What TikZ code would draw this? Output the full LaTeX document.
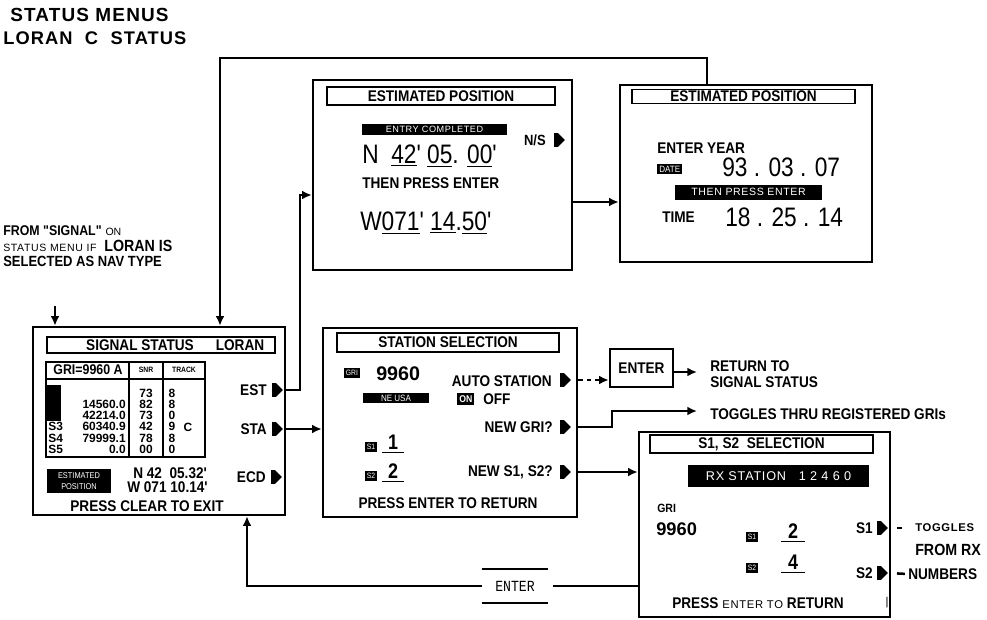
\documentclass[tikz,border=0pt]{standalone}
\usepackage{fontspec}
\setmainfont{Liberation Sans}
\newfontfamily\cnd[FakeStretch=0.88]{Liberation Sans}
\newfontfamily\lcd[FakeStretch=0.85]{Liberation Sans}
\newfontfamily\mono[FakeStretch=0.85]{Liberation Mono}
\newfontfamily\spaced[LetterSpace=6]{Liberation Sans}
\usetikzlibrary{arrows.meta,positioning,shapes.symbols}

\begin{document}
\begin{tikzpicture}[x=0.025cm, y=-0.025cm,
  screen/.style={draw, line width=1.8pt, inner sep=0},
  bar/.style={draw, line width=1.1pt, inner sep=0, minimum height=0.45cm,
    font=\cnd\bfseries\fontsize{11}{12}\selectfont},
  lbl/.style={inner sep=0, font=\cnd\bfseries\fontsize{11}{11.5}\selectfont},
  cell/.style={inner sep=0, font=\bfseries\fontsize{8.5}{9}\selectfont},
  inv/.style={fill=black, text=white, inner sep=1.5pt,
    font=\cnd\fontsize{6.5}{7}\selectfont},
  lcdtext/.style={inner sep=0, font=\lcd\fontsize{19}{21}\selectfont},
  ptr/.style={signal, signal to=east, fill=black, inner sep=0,
    minimum width=0.27cm, minimum height=0.34cm},
  conn/.style={line width=1.3pt, -{Latex[length=2.4mm,width=2.2mm]}}]

\useasboundingbox (0,0) rectangle (987,619);

% headings and entry note
\node[inner sep=0, anchor=west, font=\spaced\bfseries\fontsize{13.5}{15}\selectfont] (hdA) at (10,15) {STATUS MENUS};
\node[inner sep=0, anchor=west, font=\spaced\bfseries\fontsize{13}{15}\selectfont] (hdB) at (3,38) {LORAN\ \ C\ \ STATUS};
\node[inner sep=0, anchor=west] (noteA) at (3,231) {{\cnd\bfseries\fontsize{10}{11}\selectfont FROM "SIGNAL"} {\fontsize{7.5}{9}\selectfont ON}};
\node[inner sep=0, anchor=west] (noteB) at (3,246) {{\spaced\fontsize{7.5}{9}\selectfont STATUS MENU IF}\ \ {\cnd\bfseries\fontsize{11.5}{12}\selectfont LORAN IS}};
\node[inner sep=0, anchor=west, font=\cnd\bfseries\fontsize{10.5}{11}\selectfont] (noteC) at (3,261) {SELECTED AS NAV TYPE};

% signal status screen
\node[screen, minimum width=6.3cm, minimum height=4.7cm] (sig) at (159,421) {};
\node[bar, minimum width=5.7cm, minimum height=0.4cm] (sigbar) at (161,345) {};
\node[lbl] at (140,345) {SIGNAL STATUS};
\node[lbl] at (240,345) {LORAN};
\draw[line width=1.3pt] (46,362) rectangle (205,457) (46,379) -- (205,379)
  (129,362) -- (129,457) (163,362) -- (163,457);
\node[cell, font=\cnd\bfseries\fontsize{10}{11}\selectfont] at (88,370) {GRI=9960 A};
\node[cell, font=\cnd\bfseries\fontsize{5.5}{6}\selectfont] at (146,370) {SNR};
\node[cell, font=\cnd\bfseries\fontsize{5.5}{6}\selectfont] at (184,370) {TRACK};
\fill (47,385) rectangle (61,421);
\foreach \val/\snr/\trk [count=\i] in {{}/73/8, 14560.0/82/8, 42214.0/73/0, 60340.9/42/9, 79999.1/78/8, 0.0/00/0} {
  \node[cell, anchor=east] at (126,{382+11.2*\i}) {\val};
  \node[cell] at (146,{382+11.2*\i}) {\snr};
  \node[cell] at (172,{382+11.2*\i}) {\trk};
}
\foreach \lab [count=\i from 4] in {S3,S4,S5}
  \node[cell, anchor=west] at (48,{382+11.2*\i}) {\lab};
\node[cell] at (188,427) {C};
\node[lbl, anchor=east] at (267,390) {EST};
\node[ptr] (estp) at (274,390) {};
\node[lbl, anchor=east] at (267,429) {STA};
\node[ptr] (stap) at (274,429) {};
\node[lbl, anchor=east] at (266,477) {ECD};
\node[ptr] (ecdp) at (273,477) {};
\node[inv, minimum width=1.6cm, minimum height=0.6cm, align=center,
  font=\cnd\fontsize{6}{7.5}\selectfont] at (79,481) {ESTIMATED\\POSITION};
\node[lbl, anchor=west, font=\cnd\bfseries\fontsize{11}{12}\selectfont] at (133,473) {N 42\ \ 05.32'};
\node[lbl, anchor=west, font=\cnd\bfseries\fontsize{11}{12}\selectfont] at (127,487) {W 071 10.14'};
\node[lbl] at (147,506) {PRESS CLEAR TO EXIT};

% position entry screen
\node[screen, minimum width=6.475cm, minimum height=4.75cm] (estA) at (442.5,175) {};
\node[bar, minimum width=5.7cm] at (441,96) {ESTIMATED POSITION};
\node[inv, minimum width=3.6cm, minimum height=0.28cm,
  font=\spaced\fontsize{6.5}{7}\selectfont] at (434.5,129.5) {ENTRY COMPLETED};
\node[lbl, anchor=east, font=\cnd\bfseries\fontsize{10.5}{11}\selectfont] at (546,140) {N/S};
\node[ptr] (nsp) at (556,140) {};
\node[lcdtext, anchor=west] at (362,156) {N\ \ \underline{42}' \underline{05}. \underline{00}'};
\node[lbl, anchor=west] at (362,183) {THEN PRESS ENTER};
\node[lcdtext, anchor=west] at (360,223) {W\underline{071}' \underline{14}.\underline{50}'};

% date and time screen
\node[screen, minimum width=6.3cm, minimum height=4.425cm] (estB) at (746,173.5) {};
\node[bar, minimum width=5.575cm, minimum height=0.35cm] at (743.5,96.5) {ESTIMATED POSITION};
\node[lbl, anchor=west] at (657,148) {ENTER YEAR};
\node[inv, anchor=west, minimum height=0.25cm] at (657,169) {DATE};
\node[lcdtext, anchor=west] at (722,167) {93 . 03 . 07};
\node[inv, minimum width=3.675cm, minimum height=0.375cm,
  font=\spaced\fontsize{7.5}{8}\selectfont] at (748.5,192) {THEN PRESS ENTER};
\node[lbl, anchor=west] at (662,217) {TIME};
\node[lcdtext, anchor=west] at (725,217) {18 . 25 . 14};

% station selection screen
\node[screen, minimum width=6.35cm, minimum height=4.725cm] (stasel) at (450,422.5) {};
\node[bar, minimum width=5.55cm, minimum height=0.475cm] at (448,342.5) {STATION SELECTION};
\node[inv, font=\cnd\fontsize{5.5}{6}\selectfont] at (352,373) {GRI};
\node[inner sep=0, anchor=west, font=\bfseries\fontsize{14}{15}\selectfont] at (376,374) {9960};
\node[inv, minimum width=1.65cm, minimum height=0.26cm] at (396,398) {NE USA};
\node[lbl, anchor=east] at (552,381) {AUTO STATION};
\node[ptr] (autop) at (562,380) {};
\node[inv, anchor=west, font=\cnd\bfseries\fontsize{7}{8}\selectfont] at (457,399) {ON};
\node[lbl, anchor=west] at (483,399) {OFF};
\node[lbl, anchor=east] at (553,427) {NEW GRI?};
\node[ptr] (newgrip) at (562,427) {};
\node[inv, font=\cnd\fontsize{5.5}{6}\selectfont] at (371,447) {S1};
\node[inner sep=0, font=\lcd\bfseries\fontsize{15}{16}\selectfont] at (393,444) {\underline{\makebox[0.55cm]{1}}};
\node[inv, font=\cnd\fontsize{5.5}{6}\selectfont] at (371,476) {S2};
\node[inner sep=0, font=\lcd\bfseries\fontsize{15}{16}\selectfont] at (393,473) {\underline{\makebox[0.55cm]{2}}};
\node[lbl, anchor=east] at (553,472) {NEW S1, S2?};
\node[ptr] (news12p) at (562,472) {};
\node[lbl] at (448,503) {PRESS ENTER TO RETURN};

% enter key and side notes
\node[draw, line width=1.8pt, minimum width=1.575cm, minimum height=0.95cm,
  font=\cnd\bfseries\fontsize{11}{12}\selectfont] (enterbtn) at (641.5,368) {ENTER};
\node[lbl, anchor=west, align=left] (retnote) at (710,374) {RETURN TO\\SIGNAL STATUS};
\node[lbl, anchor=west] (grinote) at (710,414) {TOGGLES THRU REGISTERED GRIs};

% S1, S2 selection screen
\node[screen, minimum width=6.275cm, minimum height=4.625cm] (s1s2) at (764.5,524.5) {};
\node[bar, minimum width=5.575cm] at (761.5,444) {S1, S2\ \ SELECTION};
\node[inv, minimum width=4.525cm, minimum height=0.55cm,
  font=\spaced\fontsize{9}{10}\selectfont] at (778.5,476) {RX STATION\ \ \ 1 2 4 6 0};
\node[lbl, anchor=west, font=\cnd\bfseries\fontsize{8.5}{9}\selectfont] at (657,508) {GRI};
\node[inner sep=0, anchor=west, font=\bfseries\fontsize{13}{14}\selectfont] at (656,529) {9960};
\node[inv, font=\cnd\fontsize{5.5}{6}\selectfont] at (752,537) {S1};
\node[inner sep=0, font=\lcd\bfseries\fontsize{15}{16}\selectfont] at (793,533) {\underline{\makebox[0.6cm]{2}}};
\node[inv, font=\cnd\fontsize{5.5}{6}\selectfont] at (752,568) {S2};
\node[inner sep=0, font=\lcd\bfseries\fontsize{15}{16}\selectfont] at (793,564) {\underline{\makebox[0.6cm]{4}}};
\node[lbl, anchor=east] at (873,528) {S1};
\node[ptr] (s1p) at (879,528) {};
\node[lbl, anchor=east] at (873,573) {S2};
\node[ptr] (s2p) at (879,573) {};
\node[inner sep=0, anchor=west, font=\spaced\bfseries\fontsize{8}{9}\selectfont] (togg) at (915,528) {TOGGLES};
\node[inner sep=0, anchor=west, font=\cnd\bfseries\fontsize{11.5}{12}\selectfont] (fromrx) at (915,550) {FROM RX};
\node[inner sep=0, anchor=west, font=\cnd\bfseries\fontsize{11}{12}\selectfont] (numb) at (908,574) {NUMBERS};
\node[inner sep=0, anchor=west] at (672,603) {{\cnd\bfseries\fontsize{11}{12}\selectfont PRESS} {\spaced\fontsize{8}{9}\selectfont ENTER TO} {\cnd\bfseries\fontsize{11}{12}\selectfont RETURN}};
\node[inner sep=0, font=\fontsize{8}{9}\selectfont] at (887,603) {|};

% return key below
\node[inner sep=0, minimum width=1.65cm, minimum height=0.83cm,
  font=\mono\fontsize{11}{12}\selectfont] (enterkey) at (515,586) {ENTER};
\draw[line width=1.3pt] (enterkey.north west) -- (enterkey.north east)
  (enterkey.south west) -- (enterkey.south east);

% connectors
\coordinate (fromsig) at (55,306);
\draw[conn] (fromsig) -- (sig.north -| fromsig);
\draw[conn] (sig.east |- estp) -| (300,195) -- (estA.west |- 0,195);
\draw[conn] (estA.east |- 0,202) -- (estB.west |- 0,202);
\draw[conn] (estB.north -| 707,0) -- (707,58) -| (sig.north -| 220,0);
\draw[conn] (sig.east |- stap) -- (stasel.west |- stap);
\draw[conn, dashed] (stasel.east |- autop) -- (enterbtn.west |- autop);
\coordinate (rettip) at (697,372);
\draw[conn] (enterbtn.east |- rettip) -- (rettip);
\coordinate (gritip) at (697,411);
\draw[conn] (stasel.east |- newgrip) -| (612,411) -- (gritip);
\draw[conn] (stasel.east |- news12p) -- (s1s2.west |- news12p);
\draw[line width=1.3pt, shorten >=0.125cm] (s1s2.west |- enterkey) -- (enterkey.east);
\draw[conn] (enterkey.west) -| (sig.south -| 247,0);
\draw[line width=1.3pt, shorten <=0.22cm, shorten >=0.32cm] (s1p.east) -- (togg.west);
\draw[line width=1.8pt, shorten <=0.22cm, shorten >=0.08cm] (s2p.east) -- (numb.west);
\end{tikzpicture}
\end{document}
